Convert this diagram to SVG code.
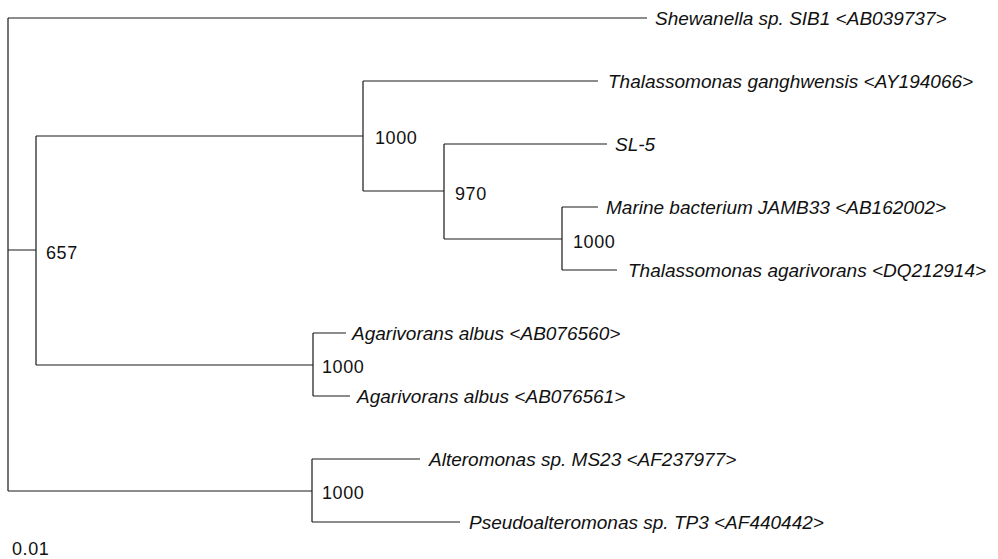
<svg xmlns="http://www.w3.org/2000/svg" width="998" height="559" viewBox="0 0 998 559">
<style>
.e{stroke:#1a1a1a;stroke-width:1.2;fill:none}
.t{font-family:"Liberation Sans",Arial,sans-serif;font-size:19px;font-style:italic;fill:#111}
.b{font-family:"Liberation Sans",Arial,sans-serif;font-size:18px;fill:#111;letter-spacing:0.6px}
</style>
<rect width="998" height="559" fill="#fff"/>
<g id="connectors">
<path class="e" d="M8,18V491M8,18H647M8,250H36M36,136V365M36,136H363M363,81V191M363,81H598M363,191H444M444,144V239M444,144H607M444,239H562M562,207V270M562,207H598M562,270H617M36,365H313M313,333V396M313,333H346M313,396H350M8,491H312M312,459V522M312,459H420M312,522H460"/>
</g>
<g id="leaf-shewanella"><text class="t" x="655" y="25">Shewanella sp. SIB1 &lt;AB039737&gt;</text></g>
<g id="leaf-ganghwensis"><text class="t" x="608" y="88">Thalassomonas ganghwensis &lt;AY194066&gt;</text></g>
<g id="leaf-sl5"><text class="t" x="615" y="151">SL-5</text></g>
<g id="leaf-jamb33"><text class="t" x="606" y="214">Marine bacterium JAMB33 &lt;AB162002&gt;</text></g>
<g id="leaf-agarivorans"><text class="t" x="628" y="277">Thalassomonas agarivorans &lt;DQ212914&gt;</text></g>
<g id="leaf-albus1"><text class="t" x="352" y="340">Agarivorans albus &lt;AB076560&gt;</text></g>
<g id="leaf-albus2"><text class="t" x="357" y="403">Agarivorans albus &lt;AB076561&gt;</text></g>
<g id="leaf-alteromonas"><text class="t" x="429" y="466">Alteromonas sp. MS23 &lt;AF237977&gt;</text></g>
<g id="leaf-pseudo"><text class="t" x="469" y="529">Pseudoalteromonas sp. TP3 &lt;AF440442&gt;</text></g>
<g id="node-657"><text class="b" x="46" y="259">657</text></g>
<g id="node-1000a"><text class="b" x="375" y="144">1000</text></g>
<g id="node-970"><text class="b" x="455" y="200">970</text></g>
<g id="node-1000b"><text class="b" x="573" y="248">1000</text></g>
<g id="node-1000c"><text class="b" x="322" y="373">1000</text></g>
<g id="node-1000d"><text class="b" x="322" y="499">1000</text></g>
<g id="scale"><text class="b" x="12" y="555">0.01</text></g>
</svg>
